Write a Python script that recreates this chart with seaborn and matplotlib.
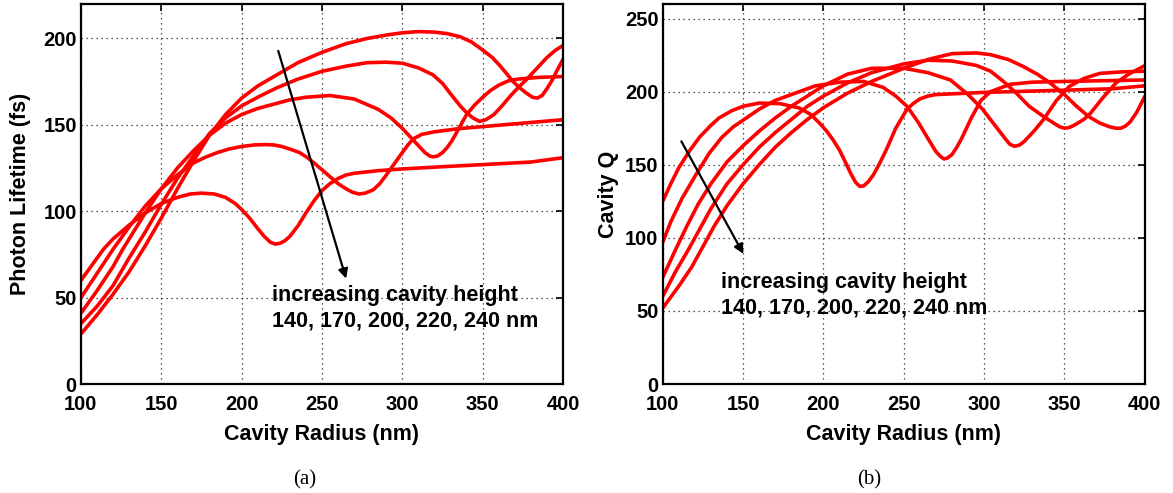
import numpy as np
import pandas as pd
import matplotlib
matplotlib.use("Agg")
import matplotlib.pyplot as plt
import seaborn as sns

# ---------------- data: (a) photon lifetime ----------------
heights = ["140 nm", "170 nm", "200 nm", "220 nm", "240 nm"]

a1_x = [100, 110, 120, 130, 140, 150, 160, 170, 180, 190, 200, 210, 222, 235, 250, 265, 278, 290, 300, 310, 320, 328, 336, 343, 349, 356, 361, 365, 369, 373, 377, 381, 384, 387, 390, 393, 396, 400]
a1_y = [29, 40, 52, 65, 80, 96, 113, 129, 144, 156, 165.5, 172.5, 179, 186, 192, 197, 200, 202, 203.3, 204, 203.7, 202.8, 201, 198, 194, 189, 184, 179.5, 175, 171.5, 168.5, 166, 165.5, 167, 171, 175.5, 181, 188]

a2_x = [100, 110, 120, 130, 140, 150, 160, 170, 180, 190, 200, 211, 222, 235, 250, 265, 278, 290, 300, 310, 319, 325, 330, 336, 340, 344, 348, 352, 357, 362, 367, 372, 377, 383, 390, 395, 400]
a2_y = [35, 45, 57, 73, 88, 104, 119, 132, 145, 154, 161, 166.5, 171.5, 176.5, 181, 184, 186, 186.3, 185.7, 183, 179, 174, 168, 161, 157, 154, 152, 153, 156, 161, 166.5, 171.5, 176, 182, 189, 193, 196]

a3_x = [100, 110, 120, 126, 130, 140, 150, 160, 170, 180, 190, 200, 210, 220, 230, 240, 255, 270, 285, 293, 300, 305, 310, 314, 317, 319, 322, 325, 328, 331, 334, 340, 345, 350, 355, 360, 366, 372, 385, 400]
a3_y = [41, 54, 68, 78, 84, 99, 113, 125, 135, 144, 151, 156, 159.5, 162, 164.5, 166, 167, 165, 159, 154, 148, 143, 138, 134, 132, 131.5, 132, 134, 137, 141, 146, 156, 161.5, 166, 170, 173, 175.5, 176.5, 177.5, 178]

a4_x = [100, 110, 120, 130, 140, 150, 160, 170, 178, 185, 192, 200, 208, 215, 220, 225, 230, 236, 241, 245, 250, 255, 260, 265, 269, 273, 277, 282, 286, 290, 295, 300, 304, 307, 312, 320, 335, 350, 375, 400]
a4_y = [50, 64, 78, 91, 103, 113, 121, 128, 131.5, 134, 136, 137.5, 138.4, 138.6, 138.4, 137.5, 136, 134, 131, 128, 124, 120, 116, 113, 111, 110, 110.5, 112.5, 116, 121, 127.5, 134, 139, 142, 144.5, 146, 147.8, 149, 151, 153]

a5_x = [100, 107, 114, 120, 130, 140, 150, 160, 168, 175, 183, 190, 196, 200, 205, 210, 214, 218, 221, 224, 227, 230, 235, 240, 245, 250, 255, 260, 265, 270, 285, 300, 325, 350, 380, 400]
a5_y = [60, 69, 78, 84, 92, 99, 104.5, 108, 110, 110.5, 110, 108, 104.5, 101, 96, 90, 85.5, 82, 81, 81.5, 83, 85.5, 91.5, 99, 106, 112, 116, 119, 121, 122, 123.5, 124.5, 125.8, 127, 128.5, 131]

# ---------------- data: (b) cavity Q ----------------
b1_x = [100, 105, 110, 117, 123, 130, 135, 143, 150, 160, 173, 185, 192, 198, 202, 206, 210, 214, 217, 220, 222.6, 225, 228, 231, 235, 239, 245, 252, 256, 260, 265, 270, 300, 350, 380, 400]
b1_y = [125, 137, 148, 160, 169, 177, 182, 187, 190, 192.2, 191.8, 188.8, 184.5, 178, 173, 167, 160, 151, 144, 138, 135.2, 135.5, 138.5, 143, 151, 160, 175, 188, 192, 195, 197, 198, 199.5, 201, 202, 204]

b2_x = [100, 105, 112, 120, 129, 137, 144, 152, 160, 170, 180, 195, 210, 225, 237, 245, 252, 259, 265, 270, 273, 275, 277, 280, 283, 286, 292, 298, 304, 316, 330, 350, 400]
b2_y = [97, 111, 127, 142, 158, 169, 176, 182, 188, 194, 198, 204, 206.5, 207, 203, 197, 190, 179, 168, 159, 155.5, 154, 154.5, 157, 162, 168, 182, 194, 200, 205, 206.5, 207, 208]

b3_x = [100, 108, 115, 122, 130, 140, 150, 160, 170, 180, 190, 200, 215, 230, 250, 265, 279, 290, 299, 306, 313, 316, 319, 322, 325, 331, 337, 345, 353, 362, 372, 385, 400]
b3_y = [73, 92, 108, 123, 137, 152, 163, 173, 182, 190, 197, 204, 212, 216, 216, 213, 208, 198, 188, 178, 168, 164, 162.6, 163.5, 166, 173, 181, 194, 203.6, 209, 212.5, 213.5, 214]

b4_x = [100, 108, 116, 123, 130, 140, 150, 160, 170, 180, 190, 200, 215, 230, 250, 265, 280, 295, 304, 312, 320, 328, 337, 344, 347, 350, 353, 356, 362, 366, 374, 382, 390, 400]
b4_y = [60, 77, 92, 106, 120, 137, 150, 162, 172, 181, 190, 197, 206, 213, 219, 221.5, 221, 218, 214, 207, 199, 190, 183, 178, 176, 175, 175.5, 177, 181, 185, 196, 206, 212, 217.8]

b5_x = [100, 110, 118, 124, 132, 140, 150, 160, 170, 180, 190, 200, 215, 230, 250, 265, 280, 295, 304, 315, 324, 333, 341, 350, 357.5, 365, 372, 378, 382, 385, 388, 391, 395, 400]
b5_y = [52, 67, 80, 92, 108, 122, 137, 150, 162, 172, 181, 189, 199, 207, 216, 222, 226, 226.5, 225.3, 222, 217.4, 212, 206, 198, 190, 183, 178.5, 176, 175, 175, 176.5, 179.5, 186, 196.8]

x_ticks = [100, 150, 200, 250, 300, 350, 400]
a_yticks = [0, 50, 100, 150, 200]
b_yticks = [0, 50, 100, 150, 200, 250]

label_x = "Cavity Radius (nm)"
label_a = "Photon Lifetime (fs)"
label_b = "Cavity Q"
note_1 = "increasing cavity height"
note_2 = "140, 170, 200, 220, 240 nm"


def frame(xs, ys):
    parts = []
    for h, x, y in zip(heights, xs, ys):
        parts.append(pd.DataFrame({"radius": x, "value": y, "height": h}))
    return pd.concat(parts, ignore_index=True)


df_a = frame([a1_x, a2_x, a3_x, a4_x, a5_x], [a1_y, a2_y, a3_y, a4_y, a5_y])
df_b = frame([b1_x, b2_x, b3_x, b4_x, b5_x], [b1_y, b2_y, b3_y, b4_y, b5_y])

sns.set_theme(style="white")
plt.rcParams["font.family"] = ["Liberation Sans", "DejaVu Sans"]
plt.rcParams["font.weight"] = "bold"
plt.rcParams["text.color"] = "black"
plt.rcParams["axes.labelcolor"] = "black"
plt.rcParams["xtick.color"] = "black"
plt.rcParams["ytick.color"] = "black"

fig = plt.figure(figsize=(11.73, 4.93), dpi=100)
ax_a = fig.add_axes([0.069, 0.221, 0.411, 0.771])
ax_b = fig.add_axes([0.565, 0.221, 0.411, 0.771])

palette = ["#ff0000"] * 5


def style(ax, ylim, yticks, ylabel, ypad):
    ax.set_xlim(100, 400)
    ax.set_ylim(*ylim)
    ax.set_xticks(x_ticks)
    ax.set_yticks(yticks)
    ax.grid(True, linestyle=(0, (1, 3)), color="#222222", linewidth=0.9)
    ax.set_axisbelow(True)
    for s in ax.spines.values():
        s.set_visible(True)
        s.set_color("black")
        s.set_linewidth(1.6)
    ax.tick_params(direction="in", length=5, width=1.2, top=True, right=True,
                   labelsize=14.5, colors="black")
    ax.tick_params(axis="x", pad=8)
    ax.tick_params(axis="y", pad=3)
    for lab in ax.get_xticklabels() + ax.get_yticklabels():
        lab.set_fontweight("bold")
        lab.set_color("black")
    ax.set_xlabel(label_x, fontsize=15.5, fontweight="bold", labelpad=7, color="black")
    ax.set_ylabel(ylabel, fontsize=15.5, fontweight="bold", labelpad=ypad, color="black")


sns.lineplot(data=df_a, x="radius", y="value", hue="height", palette=palette,
             estimator=None, linewidth=2.6, legend=False, ax=ax_a)
sns.lineplot(data=df_b, x="radius", y="value", hue="height", palette=palette,
             estimator=None, linewidth=2.6, legend=False, ax=ax_b)

style(ax_a, (0, 220), a_yticks, label_a, 9)
style(ax_b, (0, 260), b_yticks, label_b, 4.5)

arrow = dict(arrowstyle="-|>", color="black", lw=1.6, mutation_scale=14,
             shrinkA=0, shrinkB=0)
ax_a.annotate("", xy=(265, 61), xytext=(222.8, 192.8), arrowprops=arrow)
ax_b.annotate("", xy=(150.2, 89), xytext=(111.6, 166), arrowprops=arrow)

ax_a.text(219, 51, note_1, fontsize=15.5, fontweight="bold", va="center", ha="left", color="black")
ax_a.text(219, 36.7, note_2, fontsize=15.5, fontweight="bold", va="center", ha="left", color="black")
ax_b.text(136, 69.5, note_1, fontsize=15.5, fontweight="bold", va="center", ha="left", color="black")
ax_b.text(136, 52.3, note_2, fontsize=15.5, fontweight="bold", va="center", ha="left", color="black")

fig.text(305 / 1173, 1 - 480 / 493, "(a)", family="Liberation Serif",
         fontweight="normal", fontsize=15, ha="center", va="center", color="black")
fig.text(869 / 1173, 1 - 480 / 493, "(b)", family="Liberation Serif",
         fontweight="normal", fontsize=15, ha="center", va="center", color="black")

fig.savefig("out.png", dpi=100, facecolor="white")
